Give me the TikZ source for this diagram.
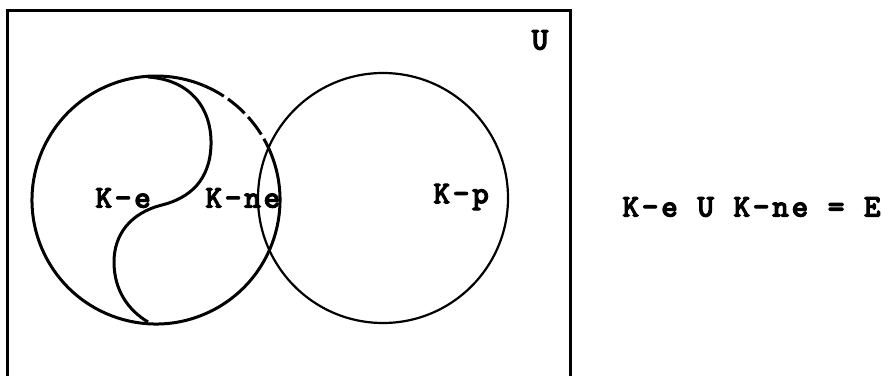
\documentclass[tikz,border=0pt]{standalone}
\usepackage{fontspec}
\newfontfamily\typew{lmmonolt10-bold.otf}[LetterSpace=8,FakeBold=3]
\begin{document}
\begin{tikzpicture}[x=0.5pt,y=-0.5pt,
  lbl/.style={inner sep=0pt,font=\typew\fontsize{16}{18}\selectfont},
  thick line/.style={line width=1.5pt},
  thin line/.style={line width=1.1pt}]
\useasboundingbox (0,0) rectangle (883,375);
% universe box
\coordinate (b1) at (7,10);
\coordinate (b2) at (570,390);
\draw[thick line] (b1) rectangle (b2);
% centres
\coordinate (cL) at (156,200);
\coordinate (cR) at (383,198);
% right circle
\draw[thin line] (cR) circle[radius=125];
% left circle: solid part and broken arc
\draw[thick line] ([shift={(-27:124)}]cL) arc[start angle=-27, end angle=293, radius=124];
\draw[thick line, dash pattern=on 11pt off 2.5pt] ([shift={(-67:124)}]cL) arc[start angle=-67, end angle=-27, radius=124];
% S-shaped divider
\coordinate (s0) at (148,77);
\coordinate (s1) at (211,145);
\coordinate (s2) at (162,205);
\coordinate (s3) at (114,262);
\coordinate (s4) at (148,322);
\draw[thick line] (s0) .. controls (192,80) and (212,110) .. (s1)
  .. controls (210,180) and (190,198) .. (s2)
  .. controls (130,213) and (114,235) .. (s3)
  .. controls (114,290) and (128,310) .. (s4);
% labels
\node[lbl,anchor=west] (ke) at (95,198) {K-e};
\node[lbl,anchor=west] (kne) at (205,198) {K-ne};
\node[lbl,anchor=west] (kp) at (433,197) {K-p};
\node[lbl] (u) at (540,40) {U};
\node[lbl,anchor=west] (eq) at (622,207) {K-e U K-ne = E};
\end{tikzpicture}
\end{document}
